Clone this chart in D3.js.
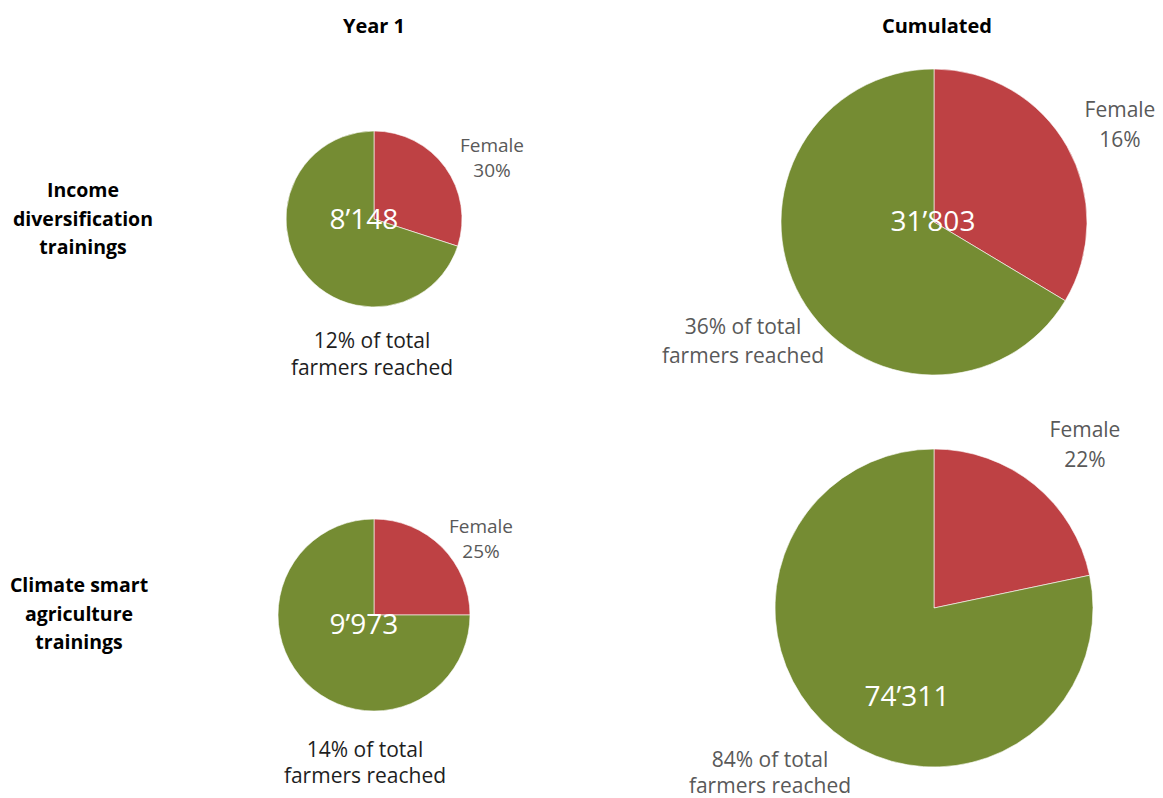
<!DOCTYPE html>
<html>
<head>
<meta charset="utf-8">
<script src="https://cdn.jsdelivr.net/npm/d3@7"></script>
<style>
  html, body { margin: 0; padding: 0; background: #ffffff; }
  svg { display: block; font-family: "Open Sans", "DejaVu Sans", sans-serif; }
</style>
</head>
<body>
<svg id="chart" width="1163" height="798"></svg>
<script>
// ---- data ----
const columnTitles = ["Year 1", "Cumulated"];
const rowTitles = [
  ["Income", "diversification", "trainings"],
  ["Climate smart", "agriculture", "trainings"]
];
// order: [row0col0, row0col1, row1col0, row1col1]
const farmersTotal = [8148, 31803, 9973, 74311];
const femaleShare = [0.30, 0.336, 0.25, 0.217];      // slice share as drawn
const femaleLabel = ["30%", "16%", "25%", "22%"];     // printed label
const reachedLabel = ["12%", "36%", "14%", "84%"];   // % of total farmers reached

// ---- layout (positions / sizes / styles) ----
const layout = [
  { cx: 374, cy: 219, r: 88,  num: [364, 229], fem: [492, 152, 177, 19], reach: [372, 348, 375, "#1e1e1e"] },
  { cx: 934, cy: 222, r: 153, num: [933, 231], fem: [1120, 117, 147, 21], reach: [743, 334, 363, "#595959"] },
  { cx: 374, cy: 615, r: 96,  num: [364, 634], fem: [481, 533, 558, 19], reach: [365, 757, 783, "#1e1e1e"] },
  { cx: 934, cy: 608, r: 159, num: [907, 706], fem: [1085, 437, 467, 21], reach: [770, 767, 793, "#595959"] }
];
const colors = { female: "#be4144", male: "#758c33" };

const svg = d3.select("#chart");
const fmt = d3.formatLocale({ decimal: ".", thousands: "\u2019", grouping: [3], currency: ["", ""] }).format(",d");

// column titles
const titleX = [374, 937];
svg.selectAll("text.coltitle").data(columnTitles).join("text")
  .attr("class", "coltitle")
  .attr("x", (d, i) => titleX[i]).attr("y", 33)
  .attr("text-anchor", "middle").attr("font-weight", "bold").attr("font-size", 20)
  .attr("fill", "#000").text(d => d);

// row titles
const rowX = [83, 79];
const rowY = [197, 592];
rowTitles.forEach((lines, i) => {
  const t = svg.append("text").attr("text-anchor", "middle")
    .attr("font-weight", "bold").attr("font-size", 19.5).attr("fill", "#000");
  lines.forEach((ln, j) => {
    t.append("tspan").attr("x", rowX[i]).attr("y", rowY[i] + j * 28.5).text(ln);
  });
});

const pie = d3.pie().sort(null).value(d => d.v);

farmersTotal.forEach((total, i) => {
  const L = layout[i];
  const arc = d3.arc().innerRadius(0).outerRadius(L.r);
  const slices = pie([
    { k: "female", v: femaleShare[i] },
    { k: "male", v: 1 - femaleShare[i] }
  ]);
  const g = svg.append("g").attr("transform", `translate(${L.cx},${L.cy})`);
  g.selectAll("path").data(slices).join("path")
    .attr("d", arc)
    .attr("fill", d => colors[d.data.k])
    .attr("stroke", "#ffffff").attr("stroke-width", 0.6);

  // total in the middle
  svg.append("text").attr("x", L.num[0]).attr("y", L.num[1])
    .attr("text-anchor", "middle").attr("font-size", 28).attr("fill", "#ffffff")
    .text(fmt(total));

  // female label
  const f = svg.append("text").attr("text-anchor", "middle")
    .attr("font-size", L.fem[3]).attr("fill", "#595959");
  f.append("tspan").attr("x", L.fem[0]).attr("y", L.fem[1]).text("Female");
  f.append("tspan").attr("x", L.fem[0]).attr("y", L.fem[2]).text(femaleLabel[i]);

  // reached label
  const r = svg.append("text").attr("text-anchor", "middle")
    .attr("font-size", 21).attr("fill", L.reach[3]);
  r.append("tspan").attr("x", L.reach[0]).attr("y", L.reach[1]).text(reachedLabel[i] + " of total");
  r.append("tspan").attr("x", L.reach[0]).attr("y", L.reach[2]).text("farmers reached");
});
</script>
</body>
</html>
